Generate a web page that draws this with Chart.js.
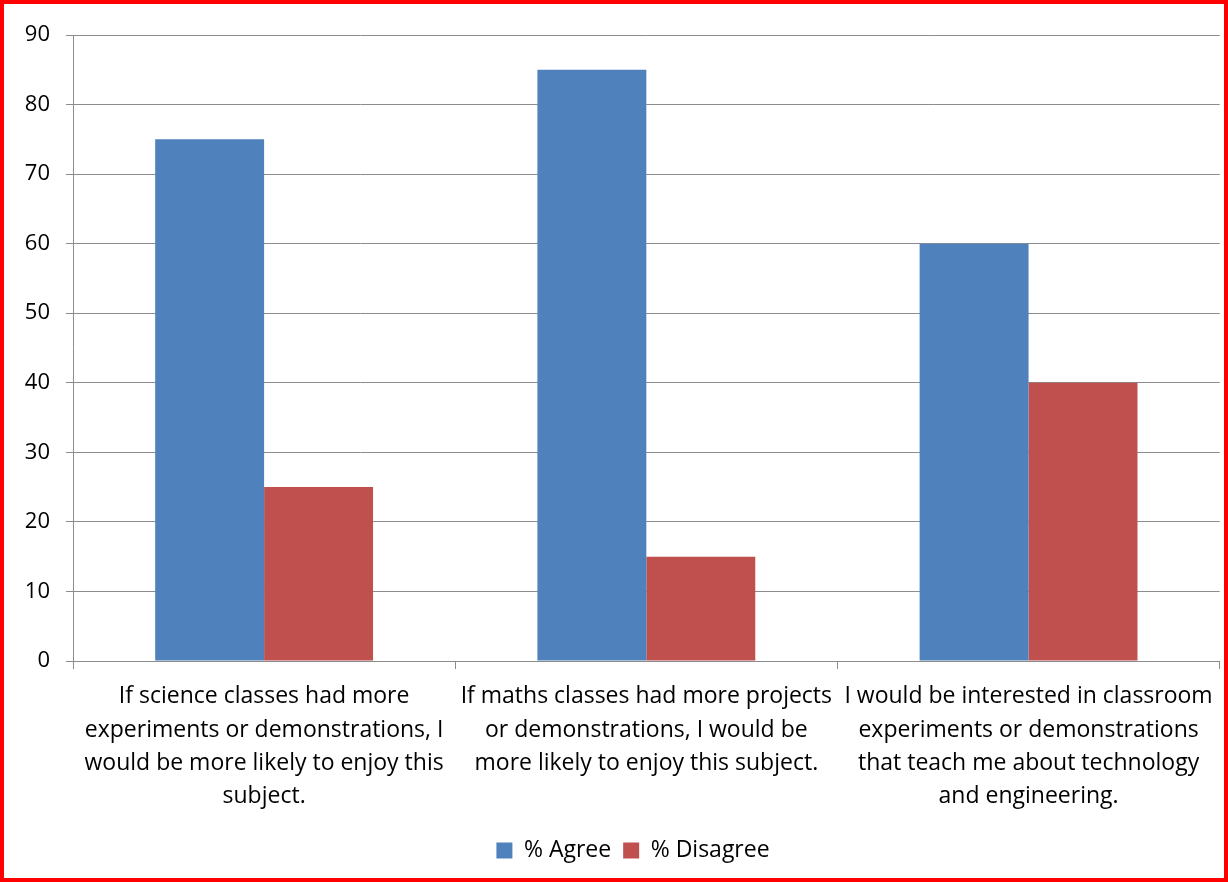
<!DOCTYPE html>
<html>
<head>
<meta charset="utf-8">
<script src="https://cdn.jsdelivr.net/npm/chart.js@4"></script>
<style>
  html, body { margin: 0; padding: 0; background: #fff; }
  #frame { width: 1228px; height: 882px; box-sizing: border-box; border: 4px solid #ff0000; background: #fff; }
  #wrap { position: relative; width: 1220px; height: 874px; }
</style>
</head>
<body>
<div id="frame"><div id="wrap"><canvas id="myChart"></canvas></div></div>
<script>
const categories = [
    ["If science classes had more", "experiments or demonstrations, I", "would be more likely to enjoy this", "subject."],
    ["If maths classes had more projects", "or demonstrations, I would be", "more likely to enjoy this subject."],
    ["I would be interested in classroom", "experiments or demonstrations", "that teach me about technology", "and engineering."]
];
const agreeValues = [75, 85, 60];
const disagreeValues = [25, 15, 40];
const yTicks = [0, 10, 20, 30, 40, 50, 60, 70, 80, 90];

const fontFamily = "'Open Sans', Lato, sans-serif";
const gridColor = "#8c8c8c";

// legend sits a bit right of centre in the original
const shiftLegend = {
    id: "shiftLegend",
    afterLayout(chart) {
        chart.legend.left += 40;
    }
};

new Chart("myChart", {
    type: "bar",
    data: {
        labels: categories,
        datasets: [{
            label: "% Agree",
            data: agreeValues,
            backgroundColor: "#4f81bd"
        }, {
            label: "% Disagree",
            data: disagreeValues,
            backgroundColor: "#c0504d"
        }]
    },
    plugins: [shiftLegend],
    options: {
        responsive: true,
        maintainAspectRatio: false,
        animation: false,
        layout: { padding: { left: 0, right: 2, top: 31, bottom: 6 } },
        datasets: {
            bar: { categoryPercentage: 0.57, barPercentage: 1.0 }
        },
        plugins: {
            tooltip: { enabled: false },
            legend: {
                position: "bottom",
                labels: {
                    color: "#000",
                    font: { family: fontFamily, size: 23 },
                    boxWidth: 16,
                    boxHeight: 16,
                    padding: 12
                }
            }
        },
        scales: {
            x: {
                grid: {
                    offset: true,
                    drawOnChartArea: false,
                    drawTicks: true,
                    tickLength: 8,
                    color: gridColor
                },
                border: { color: gridColor, width: 1 },
                ticks: {
                    color: "#000",
                    font: { family: fontFamily, size: 23, lineHeight: 1.45 },
                    maxRotation: 0,
                    autoSkip: false,
                    padding: 11
                },
                afterFit: function (scale) { scale.height = 166; }
            },
            y: {
                min: 0,
                max: 90,
                afterBuildTicks: function (scale) {
                    scale.ticks = yTicks.map(v => ({ value: v }));
                },
                grid: {
                    color: gridColor,
                    tickLength: 7
                },
                border: { color: gridColor, width: 1 },
                ticks: {
                    color: "#000",
                    font: { family: fontFamily, size: 22 },
                    padding: 16
                },
                afterFit: function (scale) { scale.width = 69; }
            }
        }
    }
});
</script>
</body>
</html>
